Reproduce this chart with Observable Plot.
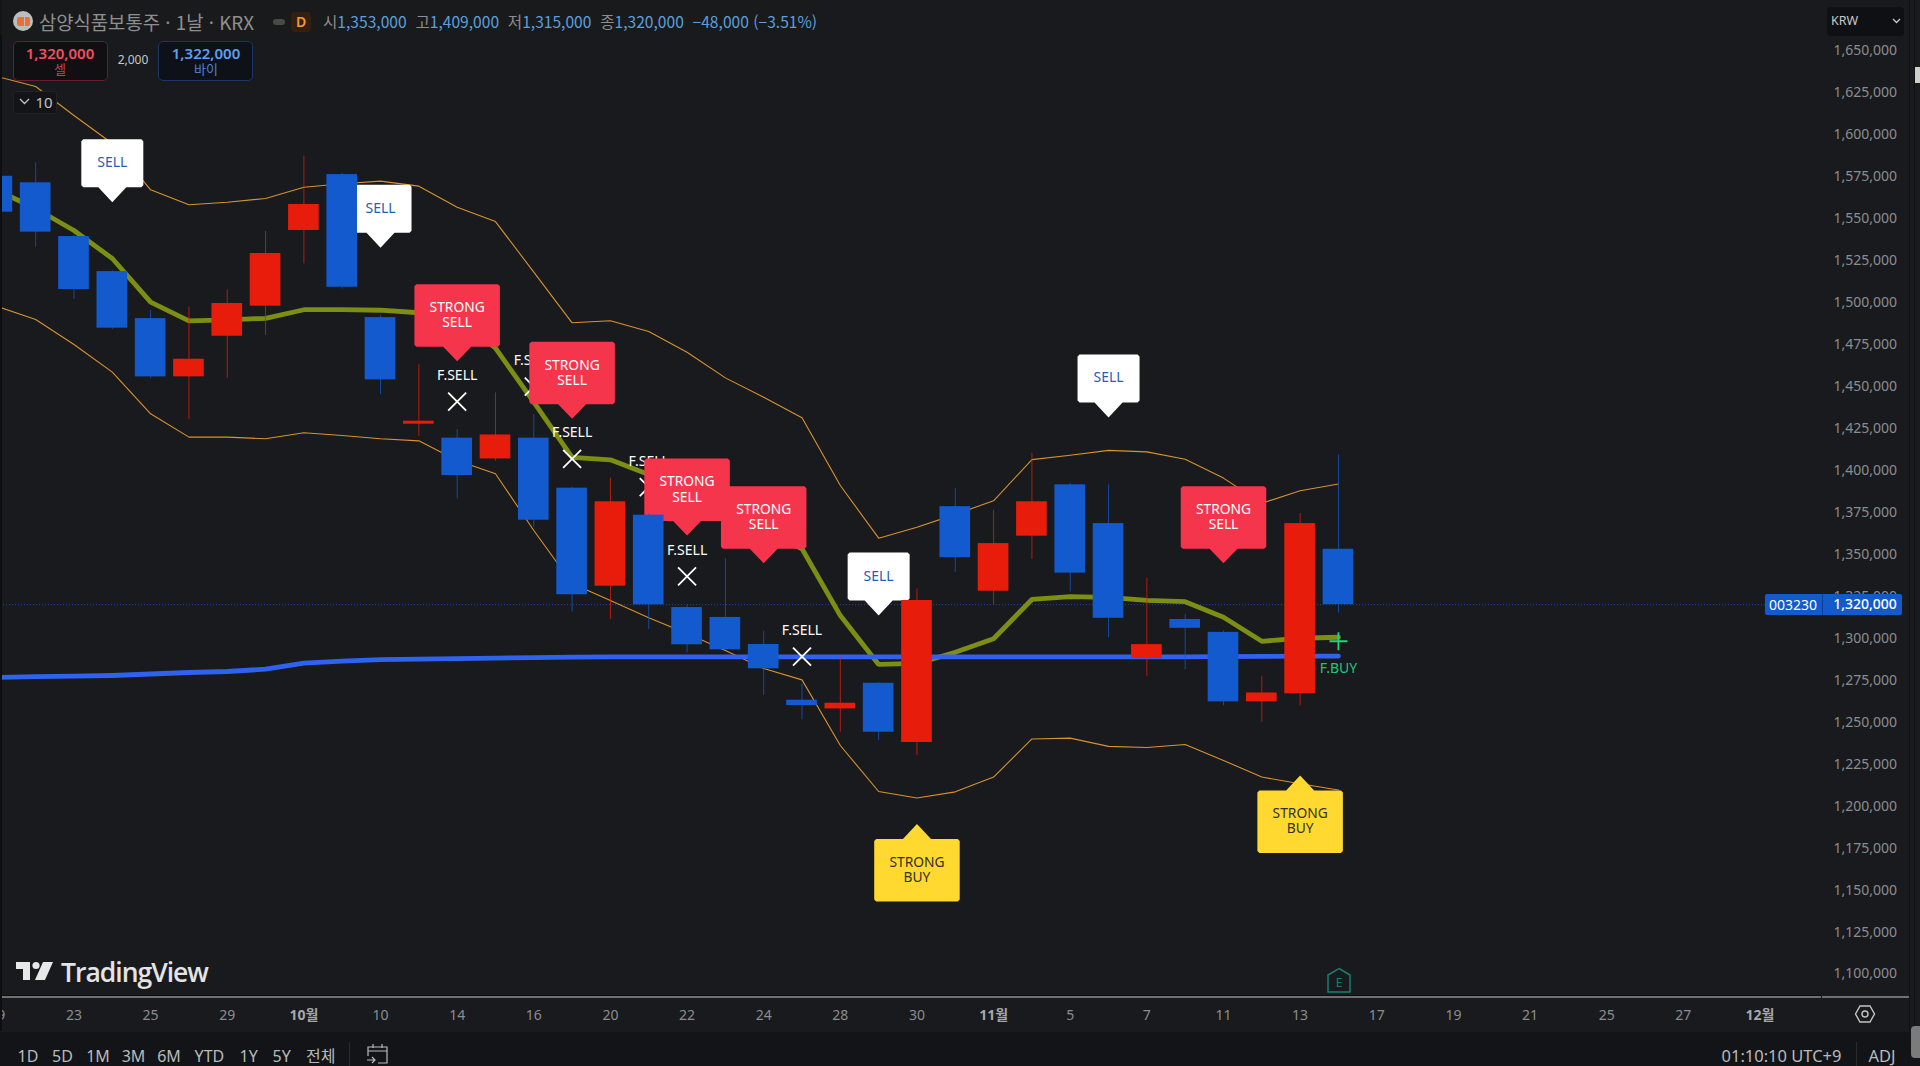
<!DOCTYPE html>
<html lang="ko">
<head>
<meta charset="utf-8">
<script src="https://cdn.jsdelivr.net/npm/d3@7"></script>
<script src="https://cdn.jsdelivr.net/npm/@observablehq/plot@0.6"></script>
<style>
html,body{margin:0;padding:0;width:1920px;height:1066px;overflow:hidden;background:#181a1d;font-family:"Noto Sans","Noto Sans CJK KR",sans-serif;}
#wrap{position:relative;width:1920px;height:1066px;overflow:hidden;}
#wrap svg{display:block;}
.o{position:absolute;white-space:nowrap;}
.c{transform:translate(-50%,-50%);}
</style>
</head>
<body>
<div id="wrap"></div>
<script>
// price values, thousands of KRW; index 0 is the 23 Sep session
const sessions = d3.range(-2, 34);
const opens  = [1575.2,1571.3,1539.3,1518.4,1490.4,1455.7,1479.9,1497.8,1542.9,1576.2,1491.0,1427.5,1419.2,1406.8,1419.2,1389.4,1331.0,1373.3,1318.3,1312.4,1296.3,1263.1,1257.9,1273.2,1237.9,1378.4,1328.0,1360.8,1391.4,1368.3,1287.9,1311.2,1303.5,1262.1,1266.9,1353];
const closes = [1553.8,1541.9,1507.7,1484.7,1455.7,1466.2,1499.4,1529.2,1558.4,1509.1,1453.9,1429.3,1396.9,1421.1,1370.3,1325.9,1381.3,1319.9,1296.1,1293.1,1281.8,1259.9,1261.3,1244.0,1322.5,1348.0,1356.4,1381.3,1338.8,1311.9,1296.2,1305.9,1262.1,1267.4,1368.3,1320];
const highs  = [1575.2,1583.2,1540.0,1519.0,1495.2,1497.2,1507.5,1542.3,1587.2,1577.0,1492.2,1463.0,1424.3,1446.2,1433.3,1390.0,1395.4,1374.0,1319.9,1347.3,1304.2,1272.8,1288.3,1273.5,1329.4,1389.2,1376.2,1410.2,1392.3,1391.4,1335.7,1314.3,1304.4,1277.3,1374.3,1409];
const lows   = [1553.8,1532.9,1501.8,1484.0,1454.5,1430.3,1454.9,1480.3,1523.0,1508.0,1445.2,1420.2,1383.0,1405.5,1366.1,1315.5,1311.2,1305.2,1291.3,1293.0,1265.9,1251.4,1244.0,1239.1,1230.1,1339.2,1319.8,1346.9,1327.5,1300.4,1277.3,1281.3,1259.7,1250.0,1259.7,1315];
const upper  = [1634.6,1628.7,1611.4,1594.7,1567.1,1558.2,1559.7,1562.0,1568.7,1570.7,1572.3,1569.3,1556.8,1548.2,1518.1,1487.9,1489.1,1482.7,1470.4,1455.1,1443.6,1431.3,1391.0,1359.6,1366.1,1373.8,1381.9,1406.4,1409.0,1411.9,1411.0,1406.6,1395.4,1380.4,1387.9,1391.9];
const lower  = [1497.6,1489.9,1475.0,1458.5,1433.7,1419.8,1419.8,1418.8,1422.4,1420.8,1418.8,1417.6,1405.9,1398.0,1364.2,1332.6,1322.5,1312.2,1302.8,1292.7,1282.0,1275.2,1236.1,1208.7,1204.8,1208.5,1217.3,1240.0,1240.5,1235.6,1234.9,1236.7,1227.2,1217.3,1213.3,1209.6];
const middle = [1566.7,1556.0,1542.9,1526.2,1500.2,1489.1,1489.7,1490.6,1495.7,1495.7,1495.4,1493.9,1491.2,1472.8,1440.6,1407.8,1406.3,1397.5,1394.0,1376.0,1364.2,1353.3,1313.5,1284.4,1285.0,1291.6,1299.7,1323.1,1324.8,1324.3,1322.6,1321.8,1312.5,1298.2,1300.0,1300.6];
const longMa = [1276.6,1277.2,1277.4,1277.8,1278.7,1279.6,1280.2,1281.6,1285.2,1286.4,1287.3,1287.6,1287.9,1288.2,1288.5,1288.8,1288.9,1288.9,1288.9,1288.9,1288.9,1288.9,1288.9,1288.9,1288.9,1288.9,1288.9,1288.9,1288.9,1288.9,1288.9,1288.9,1289.1,1289.2,1289.3,1289.4];

const sellSessions = [1, 8, 21, 27];
const sellPrices = [1559.7, 1532.6, 1313.5, 1431.5];
const strongSellSessions = [10, 13, 16, 18, 30];
const strongSellPrices = [1465.0, 1430.7, 1361.2, 1344.7, 1344.7];
const strongBuySessions = [22, 32];
const strongBuyPrices = [1189.3, 1218.2];
const fSellSessions = [10, 12, 13, 15, 16, 19];
const fSellPrices = [1441.0, 1449.9, 1406.9, 1390.0, 1336.9, 1289.1];
const fBuySessions = [33];
const fBuyPrices = [1298.2];
const lastPrice = 1320;

const priceTicks = d3.range(1100, 1651, 25);
const dayTicks = [-2,0,2,4,8,10,12,14,16,18,20,22,26,28,30,32,34,36,38,40,42];
const dayLabels = ["19","23","25","29","10","14","16","20","22","24","28","30","5","7","11","13","17","19","21","25","27"];
const monthTicks = [6,24,44];
const monthLabels = ["10월","11월","12월"];

const rows = sessions.map((s,k)=>({s,o:opens[k],c:closes[k],h:highs[k],l:lows[k],u:upper[k],d:lower[k],m:middle[k],ma:longMa[k]}));
const pts = (xs,ys)=>xs.map((s,k)=>({s,p:ys[k]}));

const callout = (w,h,a,ha,dir)=>({draw(ctx){
  const r=2, hw=w/2, s=dir, y0=s*a, y1=s*(a+h);
  ctx.moveTo(0,0);
  ctx.lineTo(ha,y0);
  ctx.lineTo(hw-r,y0);
  ctx.lineTo(hw,y0+s*r);
  ctx.lineTo(hw,y1-s*r);
  ctx.lineTo(hw-r,y1);
  ctx.lineTo(-hw+r,y1);
  ctx.lineTo(-hw,y1-s*r);
  ctx.lineTo(-hw,y0+s*r);
  ctx.lineTo(-hw+r,y0);
  ctx.lineTo(-ha,y0);
  ctx.closePath();
}});
const crossSym = {draw(ctx){ctx.moveTo(-9,-9);ctx.lineTo(9,9);ctx.moveTo(9,-9);ctx.lineTo(-9,9);}};
const plusSym = {draw(ctx){ctx.moveTo(-9,0);ctx.lineTo(9,0);ctx.moveTo(0,-9);ctx.lineTo(0,9);}};

const blue="#125ACD", red="#E81C0B", orange="#D8922F", olive="#7C8E14", maBlue="#2F62EE";
const col=d=>d.c>=d.o?red:blue;

const chart = Plot.plot({
  width:1920,height:1066,
  marginTop:0,marginLeft:0,marginRight:87,marginBottom:69,
  style:{background:"transparent",fontFamily:'"Noto Sans","Noto Sans CJK KR",sans-serif'},
  x:{domain:[-1.918,45.92],axis:null},
  y:{domain:[1086,1679.9],axis:null},
  marks:[
    Plot.ruleY([lastPrice],{stroke:"#1B4C9E",strokeDasharray:"1 2",strokeWidth:1}),
    Plot.axisY({anchor:"right",ticks:priceTicks,tickSize:0,tickPadding:0,tickFormat:d=>d3.format(",")(d*1000),fontSize:14,fill:"#8C8D8F",label:null}),
    Plot.axisX({anchor:"bottom",ticks:dayTicks,tickSize:0,tickPadding:12.5,tickFormat:d=>dayLabels[dayTicks.indexOf(d)],fontSize:14,fill:"#8C8D8F",label:null}),
    Plot.axisX({anchor:"bottom",ticks:monthTicks,tickSize:0,tickPadding:12.5,tickFormat:d=>monthLabels[monthTicks.indexOf(d)],fontSize:14,fontWeight:"bold",fill:"#A6A7A9",label:null}),
    Plot.line(rows,{x:"s",y:"u",stroke:orange,strokeWidth:1.1}),
    Plot.line(rows,{x:"s",y:"d",stroke:orange,strokeWidth:1.1}),
    Plot.line(rows,{x:"s",y:"m",stroke:olive,strokeWidth:4.8,strokeLinejoin:"miter"}),
    Plot.line(rows,{x:"s",y:"ma",stroke:maBlue,strokeWidth:4.8,strokeLinecap:"round"}),
    Plot.dot(pts(fSellSessions,fSellPrices),{x:"s",y:"p",r:1,symbol:crossSym,stroke:"#fff",fill:"none",strokeWidth:1.8}),
    Plot.text(pts(fSellSessions,fSellPrices),{x:"s",y:"p",text:()=>"F.SELL",dy:-26,fill:"#fff",fontSize:14}),
    Plot.dot(pts(fBuySessions,fBuyPrices),{x:"s",y:"p",r:1,symbol:plusSym,stroke:"#22D47A",fill:"none",strokeWidth:1.8}),
    Plot.text(pts(fBuySessions,fBuyPrices),{x:"s",y:"p",text:()=>"F.BUY",dy:27,fill:"#22C578",fontSize:14}),
    Plot.dot(pts(sellSessions,sellPrices),{x:"s",y:"p",r:1,symbol:callout(62,48,15,14,-1),fill:"#fff",stroke:"none"}),
    Plot.text(pts(sellSessions,sellPrices),{x:"s",y:"p",text:()=>"SELL",dy:-39.5,fill:"#2A5CB8",fontSize:14}),
    Plot.dot(pts(strongSellSessions,strongSellPrices),{x:"s",y:"p",r:1,symbol:callout(85.5,62.5,14.5,14,-1),fill:"#F4354C",stroke:"none"}),
    Plot.text(pts(strongSellSessions,strongSellPrices),{x:"s",y:"p",text:()=>"STRONG\nSELL",dy:-46.3,lineHeight:1.1,fill:"#fff",fontSize:13.8}),
    Plot.dot(pts(strongBuySessions,strongBuyPrices),{x:"s",y:"p",r:1,symbol:callout(85.5,62.5,15,14,1),fill:"#FFD930",stroke:"none"}),
    Plot.text(pts(strongBuySessions,strongBuyPrices),{x:"s",y:"p",text:()=>"STRONG\nBUY",dy:45.5,lineHeight:1.08,fill:"#333026",fontSize:13.8}),
    Plot.ruleX(rows,{x:"s",y1:"l",y2:"h",stroke:col,strokeWidth:1,strokeOpacity:.75}),
    Plot.rect(rows,{x1:d=>d.s-.4,x2:d=>d.s+.4,y1:"o",y2:"c",fill:col})
  ]
});
const wrap=document.getElementById("wrap");
wrap.appendChild(chart);

// surrounding app chrome, added as plain text and boxes over the chart
function el(css,text,cls){const d=document.createElement("div");d.className="o "+(cls||"");d.style.cssText=css;if(text!=null)d.textContent=text;wrap.appendChild(d);return d;}
const box=(x,y,w,h,bg,extra="")=>el(`left:${x}px;top:${y}px;width:${w}px;height:${h}px;background:${bg};${extra}`);
const txt=(x,y,t,size,color,extra="")=>el(`left:${x}px;top:${y}px;font-size:${size}px;color:${color};line-height:1;${extra}`,t,"c");
const icon=(x,y,w,h,inner)=>{const s=document.createElementNS("http://www.w3.org/2000/svg","svg");s.setAttribute("width",w);s.setAttribute("height",h);s.style.cssText=`position:absolute;left:${x}px;top:${y}px;`;s.innerHTML=inner;wrap.appendChild(s);};

// bottom bars
box(0,1031.5,1920,35,"#131417");
wrap.appendChild(chart);
box(0,994.5,1821,1,"#0c0d0f"); box(0,996,1821,2,"#6f7072"); box(1822,996,88,2,"#6f7072");
box(0,0,1.5,1031,"#0d0e10");
box(1909,0,1,1031,"#101113");
box(1914,0,1,1031,"#101113");
box(1915,67,5,16,"#cfcfcb");
box(1911,1026,9,32,"#7a7b7d","border-radius:4px 0 0 4px");

// header strip
box(0,0,822,35,"#1c1c1c","opacity:.55");
el(`left:13px;top:11px;width:20px;height:20px;border-radius:50%;background:#bdbdbd;`);
el(`left:17px;top:17px;width:7px;height:9px;background:#e9703a;border-radius:2px 0 0 2px;`);
el(`left:25px;top:17px;width:5px;height:9px;background:#e9703a;border-radius:0 2px 2px 0;`);
el(`left:39px;top:21.5px;transform:translateY(-50%);font-size:18.8px;color:#8f8f8f;font-family:'Noto Sans CJK KR';line-height:1;`,"삼양식품보통주 · 1날 · KRX");
box(273,19,12,6,"#4a4a44","border-radius:3px");
box(291,12,20,20,"#33200f","border-radius:4px");
txt(301,22,"D",14,"#F59B34","font-weight:600;");
const hdr=el(`left:323px;top:21.5px;transform:translateY(-50%);font-size:15.6px;font-family:'Noto Sans CJK KR';line-height:1;color:#8d8d8d;`);
hdr.innerHTML='시<span style="color:#5C9FDC">1,353,000</span>&nbsp; 고<span style="color:#5C9FDC">1,409,000</span>&nbsp; 저<span style="color:#5C9FDC">1,315,000</span>&nbsp; 종<span style="color:#5C9FDC">1,320,000</span>&nbsp; <span style="color:#5C9FDC">−48,000 (−3.51%)</span>';

// sell / buy buttons
box(12.5,40.5,95.5,40,"#120f12","border:1px solid #6b1d2b;border-radius:5px;box-sizing:border-box;");
txt(60,52.5,"1,320,000",15,"#F2505F","font-weight:600;");
txt(60,68,"셀",13,"#B94652","font-family:'Noto Sans CJK KR';");
txt(133,60,"2,000",12,"#c7c7c7");
box(158,40.5,95,40,"#0e1218","border:1px solid #1B3668;border-radius:5px;box-sizing:border-box;");
txt(206,52.5,"1,322,000",15,"#5C9FF5","font-weight:600;");
txt(206,68,"바이",13,"#4A82D0","font-family:'Noto Sans CJK KR';");
box(12.5,90.5,44.5,23.5,"#131417","border:1px solid #222;border-radius:3px;box-sizing:border-box;");
icon(19,98,11,7,'<path fill="none" stroke="#c4c4c4" stroke-width="1.3" d="M1 1L5.5 5.5L10 1"/>');
txt(44,102,"10",15,"#c4c4c4");

// currency box and price tag
box(1827,6.5,77,29,"#0f1013","border-radius:4px;");
el(`left:1831px;top:21px;transform:translateY(-50%);font-size:12.5px;color:#c8c8c8;line-height:1;`,"KRW");
icon(1892,18,9,6,'<path fill="none" stroke="#c8c8c8" stroke-width="1.3" d="M1 1L4.5 4.5L8 1"/>');
box(1765,594,137,20.5,"#135ACB","border-radius:2px;");
box(1821.5,594,1,20.5,"#0d3f94");
txt(1793,604.5,"003230",14,"#fff");
txt(1865,604,"1,320,000",14,"#fff","font-weight:500;");

// TradingView wordmark
icon(15,961,40,22,'<path fill="#E8E8E8" d="M1 1H15V19H8V8H1Z"/><circle cx="21" cy="4.5" r="3.6" fill="#E8E8E8"/><path fill="#E8E8E8" d="M28 1H38L30 19H20Z"/>');
el(`left:61px;top:972px;transform:translateY(-50%);font-size:26.5px;font-weight:600;color:#E4E4E4;line-height:1;font-family:'Open Sans';letter-spacing:-1px;`,"TradingView");

// earnings flag and settings icon
icon(1326,967,26,27,'<path fill="none" stroke="#1B7E6D" stroke-width="1.5" d="M13 1.5L24 8V25H2V8Z"/><text x="13" y="20" text-anchor="middle" font-size="12" font-family="Noto Sans" fill="#1B7E6D">E</text>');
icon(1854,1004,22,20,'<path fill="none" stroke="#c4c4c4" stroke-width="1.4" d="M6 2H16L20.5 10L16 18H6L1.5 10Z"/><circle cx="11" cy="10" r="3" fill="none" stroke="#c4c4c4" stroke-width="1.4"/>');

// range bar
const ranges=["1D","5D","1M","3M","6M","YTD","1Y","5Y","전체"];
const rangeX=[28,62.5,98,133.5,169,209.4,248.6,281.6,320.8];
ranges.forEach((r,k)=>txt(rangeX[k],1055.5,r,16,"#B9BABC","font-family:'Noto Sans','Noto Sans CJK KR';"));
box(349,1042,1,24,"#2a2b2e");
icon(366,1043,24,22,'<path fill="none" stroke="#b9babc" stroke-width="1.2" d="M2 13V4H21V20H12M2 8H21M7 1V5M16 1V5M1 17H9M6 14L9 17L6 20"/>');
txt(1781.5,1055.5,"01:10:10 UTC+9",16.5,"#B9BABC");
box(1855.5,1042,1,24,"#2a2b2e");
txt(1882,1055.5,"ADJ",16.5,"#B9BABC");
</script>
</body>
</html>
